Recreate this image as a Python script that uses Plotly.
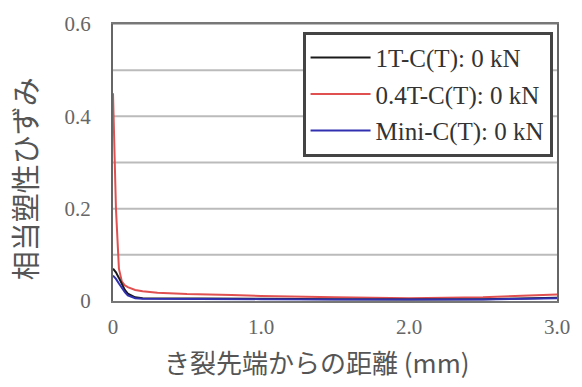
import plotly.graph_objects as go

# Distance from crack tip (mm)
x_vals = [0.0, 0.02, 0.04, 0.06, 0.08, 0.1, 0.15, 0.2, 0.3, 0.5, 0.8, 1.0, 1.5, 2.0, 2.5, 2.8, 3.0]
# Equivalent plastic strain
y_1t = [0.070, 0.062, 0.050, 0.036, 0.024, 0.016, 0.008, 0.006, 0.006, 0.005, 0.005, 0.005, 0.004, 0.003, 0.004, 0.006, 0.007]
y_04t = [0.450, 0.200, 0.070, 0.042, 0.034, 0.030, 0.024, 0.021, 0.018, 0.015, 0.013, 0.011, 0.008, 0.006, 0.008, 0.012, 0.014]
y_mini = [0.055, 0.048, 0.038, 0.028, 0.019, 0.012, 0.006, 0.005, 0.005, 0.004, 0.004, 0.004, 0.003, 0.003, 0.003, 0.005, 0.006]

names = ["1T-C(T): 0 kN", "0.4T-C(T): 0 kN", "Mini-C(T): 0 kN"]
colors = ["#1a1a1a", "#e05050", "#3030b0"]
series = [y_1t, y_04t, y_mini]

x_ticks = [0, 1.0, 2.0, 3.0]
x_ticklabels = ["0", "1.0", "2.0", "3.0"]
y_ticks = [0, 0.2, 0.4, 0.6]
y_ticklabels = ["0", "0.2", "0.4", "0.6"]

serif = "Liberation Serif, Noto Sans CJK JP, serif"

fig = go.Figure()
order = [1, 0, 2]
for i in order:
    fig.add_trace(go.Scatter(x=x_vals, y=series[i], mode="lines", name=names[i],
                             legendgroup=f"g{i}",
                             line=dict(color=colors[i], width=2), legendrank=i + 1))

fig.update_layout(
    width=582, height=387,
    margin=dict(l=113, r=24, t=17, b=86),
    paper_bgcolor="white", plot_bgcolor="white",
    font=dict(family=serif, color="#555555"),
    showlegend=True,
    legend=dict(x=0.99, y=0.972, xanchor="right", yanchor="top",
                bgcolor="white", bordercolor="#444444", borderwidth=3,
                font=dict(family=serif, size=25, color="#333333"),
                tracegroupgap=1, itemwidth=60),
    xaxis=dict(range=[0, 3.0], tickvals=x_ticks, ticktext=x_ticklabels,
               showgrid=False, zeroline=False, showline=True, linecolor="#777777",
               linewidth=2, mirror=True, ticks="", tickfont=dict(size=21, color="#666666"),
               ticklabelstandoff=6),
    yaxis=dict(range=[0, 0.6], tickvals=y_ticks, ticktext=y_ticklabels,
               showgrid=False, zeroline=False, showline=True, linecolor="#666666",
               linewidth=2, mirror=True, ticks="", tickfont=dict(size=21, color="#666666"),
               ticklabelstandoff=16),
)

# horizontal gridlines every 0.1
for g in [0.1, 0.2, 0.3, 0.4, 0.5, 0.6]:
    fig.add_shape(type="line", xref="paper", x0=0, x1=1, yref="y", y0=g, y1=g,
                  line=dict(color="#bbbbbb", width=2), layer="below")

fig.add_annotation(text="き裂先端からの距離 (mm)", xref="paper", yref="paper",
                   x=0.46, y=-0.218, xanchor="center", yanchor="middle", showarrow=False,
                   font=dict(size=26, color="#555555", family="Noto Sans CJK JP, serif"))

fig.add_annotation(text="相当塑性ひずみ", textangle=-90, xref="paper", yref="paper",
                   x=-0.2, y=0.44, xanchor="center", yanchor="middle", showarrow=False,
                   font=dict(size=29, color="#555555", family="Noto Sans CJK JP, serif"))

fig.write_html("out.html")
